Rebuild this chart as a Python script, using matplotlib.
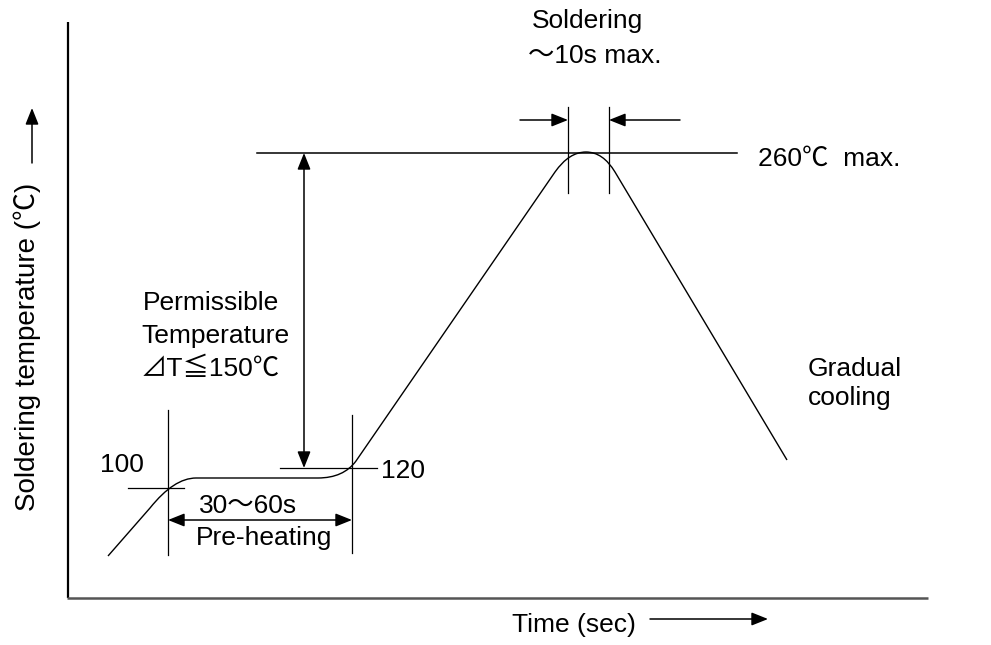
import matplotlib
matplotlib.use("Agg")
import matplotlib.pyplot as plt
from matplotlib.path import Path
from matplotlib.patches import PathPatch

plt.rcParams['font.family'] = ['Liberation Sans', 'Noto Sans CJK JP', 'DejaVu Sans']

# ---- profile key points (schematic, in drawing units: x = time, y = level, y grows downward)
rise_start = (108, 556)
rise_knee = (150, 508)
preheat_ctrl1 = (174, 478)
preheat_start = (196, 478)
preheat_end = (318, 478)
preheat_ctrl2 = (343.5, 478)
ramp_start = (356, 461)
peak_left = (555, 172)
peak_ctrl_l = (569, 152)
peak_top = (586, 152)
peak_ctrl_r = (603, 152)
peak_right = (615, 172)
cool_end = (787, 460)

# annotation levels
t_preheat_a, t_preheat_b = 168, 352      # pre-heating window
t_solder_a, t_solder_b = 568, 609         # soldering window
y_peak = 153                              # 260 C max line
y_100 = 488
y_120 = 468
labels_preheat = ["30～60s", "Pre-heating"]
label_peak = "260℃  max."
label_perm = ["Permissible", "Temperature", "⊿T≦150℃"]
label_cool = ["Gradual", "cooling"]
label_solder = ["Soldering", "～10s max."]
xlabel = "Time (sec)"
ylabel = "Soldering temperature (℃)"

W, H = 991, 645
fig = plt.figure(figsize=(W / 100, H / 100), dpi=100)
ax = fig.add_axes([0, 0, 1, 1])
ax.set_xlim(0, W)
ax.set_ylim(H, 0)
ax.axis('off')

FS = 19
K = 'black'

# axes frame
ax.plot([67.5, 67.5], [22, 598], color='black', lw=1.6, solid_capstyle='butt')
ax.plot([67, 928], [598, 598], color='#555555', lw=1.8, solid_capstyle='butt')

# profile curve
verts = [rise_start, rise_knee, preheat_ctrl1, preheat_start, preheat_end,
         preheat_ctrl2, ramp_start, peak_left, peak_ctrl_l, peak_top,
         peak_ctrl_r, peak_right, cool_end]
codes = [Path.MOVETO, Path.LINETO, Path.CURVE3, Path.CURVE3, Path.LINETO,
         Path.CURVE3, Path.CURVE3, Path.LINETO, Path.CURVE3, Path.CURVE3,
         Path.CURVE3, Path.CURVE3, Path.LINETO]
ax.add_patch(PathPatch(Path(verts, codes), facecolor='none', edgecolor=K, lw=1.0))

lw = 0.9
# vertical guide lines
ax.plot([t_preheat_a, t_preheat_a], [410, 555], color=K, lw=lw)
ax.plot([t_preheat_b, t_preheat_b], [415, 553], color=K, lw=lw)
ax.plot([t_solder_a, t_solder_a], [107, 193], color=K, lw=lw)
ax.plot([t_solder_b, t_solder_b], [107, 193], color=K, lw=lw)
# horizontal guide lines
ax.plot([128, 184], [y_100, y_100], color=K, lw=lw)
ax.plot([280, 377], [y_120, y_120], color=K, lw=lw)
ax.plot([257, 737], [y_peak, y_peak], color=K, lw=1.1)

aprops = dict(arrowstyle='-|>,head_length=0.5,head_width=0.2', color=K, lw=1.1,
              shrinkA=0, shrinkB=0, mutation_scale=20)
daprops = dict(aprops, arrowstyle='<|-|>,head_length=0.5,head_width=0.2')
# permissible delta T arrow
ax.annotate('', xy=(304, y_peak), xytext=(304, y_120), arrowprops=daprops)
# pre-heating window arrow
ax.annotate('', xy=(t_preheat_b, 520), xytext=(t_preheat_a, 520), arrowprops=daprops)
# soldering window arrows
ax.annotate('', xy=(t_solder_a, 120), xytext=(520, 120), arrowprops=aprops)
ax.annotate('', xy=(t_solder_b, 120), xytext=(680, 120), arrowprops=aprops)
# axis direction arrows
ax.annotate('', xy=(768, 619), xytext=(650, 619), arrowprops=aprops)
ax.annotate('', xy=(32, 108), xytext=(32, 163), arrowprops=aprops)

def txt(x, y, s, ha='left', **kw):
    ax.text(x, y, s, ha=ha, va='baseline', fontsize=FS, color=K, **kw)

txt(100, 472, "100")
txt(381, 478, "120")
txt(248, 513, labels_preheat[0], ha='center')
txt(264, 545, labels_preheat[1], ha='center')
txt(758, 166, label_peak)
txt(143, 310, label_perm[0])
txt(141, 343, label_perm[1])
txt(141, 376, label_perm[2])
txt(808, 376, label_cool[0])
txt(808, 405, label_cool[1])
txt(587, 28, label_solder[0], ha='center')
txt(528, 63, label_solder[1])
txt(512, 632, xlabel)
ax.text(27, 347, ylabel, rotation=90, ha='center', va='center', fontsize=20, color=K)

fig.savefig('out.png', dpi=100)
